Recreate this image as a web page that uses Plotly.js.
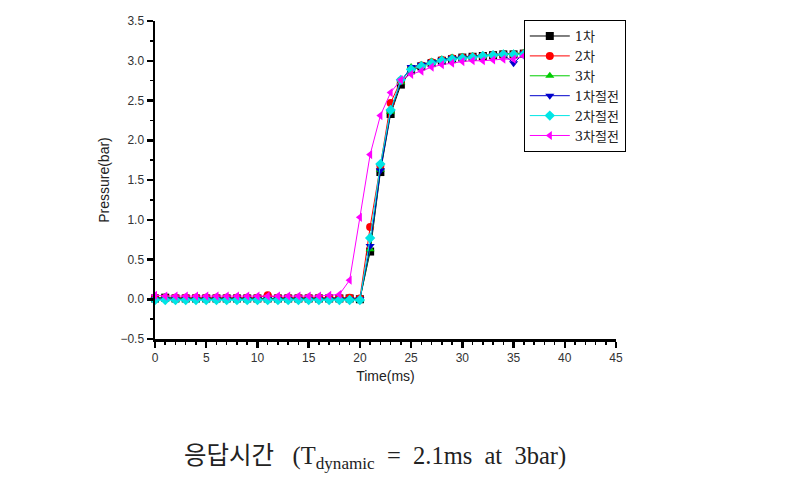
<!DOCTYPE html>
<html>
<head>
<meta charset="utf-8">
<script src="https://cdn.plot.ly/plotly-3.0.1.min.js"></script>
<style>html,body{margin:0;padding:0;background:#fff;}#chart{width:785px;height:481px;}</style>
</head>
<body>
<div id="chart"></div>
<script>
const timeMs = [0,1,2,3,4,5,6,7,8,9,10,11,12,13,14,15,16,17,18,19,20,21,22,23,24,25,26,27,28,29,30,31,32,33,34,35,36,37,38,39,40];

const s1 = [0.01,0.02,0.01,0.01,0.01,0.01,0.01,0.01,0.01,0.01,0.01,0.01,0.01,0.01,0.01,0.01,0.01,0.01,0.01,0.01,0.0,0.60,1.60,2.33,2.70,2.88,2.93,2.97,3.00,3.02,3.04,3.05,3.06,3.07,3.08,3.08,3.09,3.09,3.10,3.10,3.10];
const s2 = [0.02,0.02,0.02,0.02,0.02,0.02,0.02,0.02,0.02,0.02,0.02,0.05,0.02,0.02,0.02,0.02,0.02,0.02,0.02,0.02,0.01,0.91,1.68,2.47,2.75,2.90,2.94,2.98,3.01,3.03,3.04,3.05,3.06,3.07,3.08,3.08,3.09,3.09,3.10,3.10,3.10];
const s3 = [0.01,0.03,0.01,0.01,0.01,0.01,0.01,0.01,0.01,0.01,0.01,0.01,0.01,0.01,0.01,0.01,0.01,0.01,0.01,0.01,0.0,0.63,1.63,2.36,2.73,2.92,2.95,2.99,3.02,3.04,3.05,3.06,3.07,3.08,3.09,3.09,3.10,3.10,3.10,3.10,3.10];
const s4 = [0.0,0.0,0.0,0.0,0.0,0.0,0.0,0.0,0.0,0.0,0.0,0.0,0.0,0.0,0.0,0.0,0.0,0.0,0.0,0.0,0.0,0.67,1.62,2.36,2.74,2.92,2.95,2.98,3.01,3.03,3.04,3.05,3.06,3.07,3.08,2.97,3.09,3.09,3.10,3.10,3.10];
const s5 = [-0.01,-0.01,-0.01,-0.01,-0.01,-0.01,-0.01,-0.01,-0.01,-0.01,-0.01,-0.01,-0.01,-0.01,-0.01,-0.01,-0.01,-0.01,-0.01,-0.01,-0.01,0.77,1.70,2.38,2.76,2.89,2.93,2.97,3.00,3.02,3.03,3.04,3.06,3.07,3.08,3.08,3.08,3.09,3.09,3.10,3.10];
const s6 = [0.05,0.04,0.04,0.04,0.04,0.04,0.04,0.04,0.04,0.04,0.04,0.04,0.04,0.04,0.04,0.04,0.04,0.05,0.06,0.24,1.03,1.82,2.31,2.60,2.76,2.83,2.87,2.92,2.95,2.97,2.99,3.00,3.00,3.01,3.02,3.02,3.06,3.06,3.07,3.07,3.08];

const names = ['1차','2차','3차','1차절전','2차절전','3차절전'];
const colors = ['#000000','#ff0000','#00cc00','#0000cc','#00e5e5','#ff00ff'];
const symbols = ['square','circle','triangle-up','triangle-down','diamond','triangle-left'];
const series = [s1,s2,s3,s4,s5,s6];

const traces = series.map((ys,i)=>({
  x: timeMs, y: ys, name: names[i], type:'scatter', mode:'lines+markers',
  line:{color:colors[i], width:1},
  marker:{color:colors[i], symbol:symbols[i], size:8},
  cliponaxis:false
}));

const layout = {
  width:785, height:481,
  margin:{l:155, r:169, t:21, b:142},
  paper_bgcolor:'#fff', plot_bgcolor:'#fff',
  showlegend:true,
  legend:{x:0.8, y:1.003, xanchor:'left', yanchor:'top', bgcolor:'#fff', bordercolor:'#000', borderwidth:1,
    itemwidth:40,
    font:{family:'DejaVu Serif, Noto Sans CJK KR, serif', size:13, color:'#222'}, tracegroupgap:0},
  xaxis:{range:[0,45], dtick:5, tick0:0, ticks:'outside', ticklen:6, tickwidth:2.5, tickcolor:'#000',
    showline:true, linecolor:'#000', linewidth:2.5, showgrid:false, zeroline:false,
    minor:{dtick:1, ticks:'outside', ticklen:3, tickwidth:1.5, tickcolor:'#000'},
    tickfont:{family:'Liberation Sans, Arial, sans-serif', size:12, color:'#333'},
    title:{text:'Time(ms)', font:{family:'Liberation Sans, Arial, sans-serif', size:14, color:'#222'}, standoff:8}},
  yaxis:{range:[-0.5,3.5], dtick:0.5, tick0:0, tickformat:'.1f', ticks:'outside', ticklen:6, tickwidth:2.5, tickcolor:'#000',
    showline:true, linecolor:'#000', linewidth:2.5, showgrid:false, zeroline:false,
    minor:{dtick:0.25, ticks:'outside', ticklen:3, tickwidth:1.5, tickcolor:'#000'},
    tickfont:{family:'Liberation Sans, Arial, sans-serif', size:12, color:'#333'},
    title:{text:'Pressure(bar)', font:{family:'Liberation Sans, Arial, sans-serif', size:14, color:'#222'}, standoff:8}},
  annotations:[{
    xref:'paper', yref:'paper', x:0.477, y:-0.374, xanchor:'center', yanchor:'middle', showarrow:false,
    text:'응답시간   (T<sub>dynamic</sub>  =  2.1ms  at  3bar)',
    font:{family:'Liberation Serif, Noto Sans CJK KR, serif', size:24.5, color:'#222'}
  }]
};

Plotly.newPlot('chart', traces, layout, {displayModeBar:false, staticPlot:true});
</script>
</body>
</html>
